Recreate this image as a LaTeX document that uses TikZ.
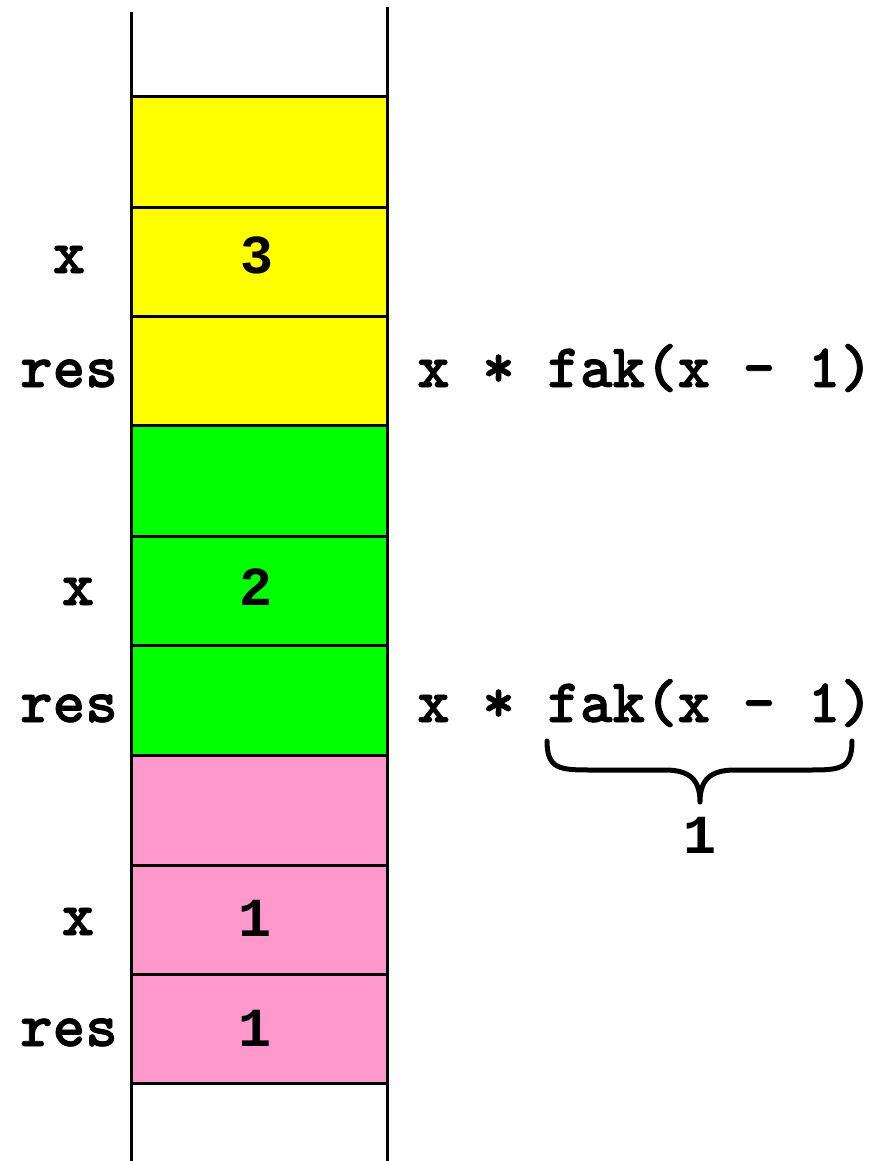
\documentclass[tikz,border=0pt]{standalone}
\usepackage{fontspec}
\newfontfamily\digitfont{Liberation Mono}
\newfontfamily\heavymono{lmmonolt10-bold.otf}[FakeBold=1.2]
\definecolor{pinkc}{RGB}{255,153,204}
\definecolor{yellowc}{RGB}{255,255,0}
\definecolor{greenc}{RGB}{0,255,0}
\begin{document}
\begin{tikzpicture}[x=1pt,y=-1pt,
  txt/.style={font=\fontsize{62}{66}\selectfont\heavymono, inner sep=0pt, anchor=base},
  num/.style={font=\fontsize{55}{60}\selectfont\digitfont\bfseries, inner sep=0pt, anchor=base},
  code/.style={txt, anchor=base west},
  rule/.style={line width=3pt},
  bracestyle/.style={line width=5pt, line cap=round, line join=round}]
\useasboundingbox (0,0) rectangle (885,1161);
% frames
\fill[yellowc] (131,97) rectangle (387,425);
\fill[greenc] (131,425) rectangle (387,755);
\fill[pinkc] (131,755) rectangle (387,1083);
\foreach \y in {97,207,316,425,536,645,755,865,974,1083}
  \draw[rule] (131,\y) -- (387,\y);
\coordinate (lt) at (131,12);
\coordinate (lb) at (131,1161);
\coordinate (rt) at (387,7);
\coordinate (rb) at (387,1161);
\draw[rule] (lt) -- (lb);
\draw[rule] (rt) -- (rb);
% labels
\node[txt] (x3) at (69,273) {x};
\node[txt] (r3) at (69,387) {res};
\node[txt] (x2) at (78,605) {x};
\node[txt] (r2) at (69,722) {res};
\node[txt] (x1) at (78,935) {x};
\node[txt] (r1) at (69,1046) {res};
% values
\node[num] (v3) at (257,273) {3};
\node[num] (v2) at (256,605) {2};
\node[num] (v1) at (255,936) {1};
\node[num] (w1) at (255,1046) {1};
% code
\node[code] (c3) at (417,387) {x * fak(x - 1)};
\node[code] (c2) at (417,722) {x * fak(x - 1)};
% brace
\coordinate (bl) at (547,741);
\coordinate (br) at (852,741);
\coordinate (bt) at (700,802);
\draw[bracestyle] (bl) .. controls (547,769) and (560,770) .. (590,770) -- (665,770)
  .. controls (690,770) and (700,780) .. (bt)
  .. controls (700,780) and (710,770) .. (735,770) -- (810,770)
  .. controls (840,770) and (852,769) .. (br);
\node[num] (one) at (700,853) {1};
\end{tikzpicture}
\end{document}
